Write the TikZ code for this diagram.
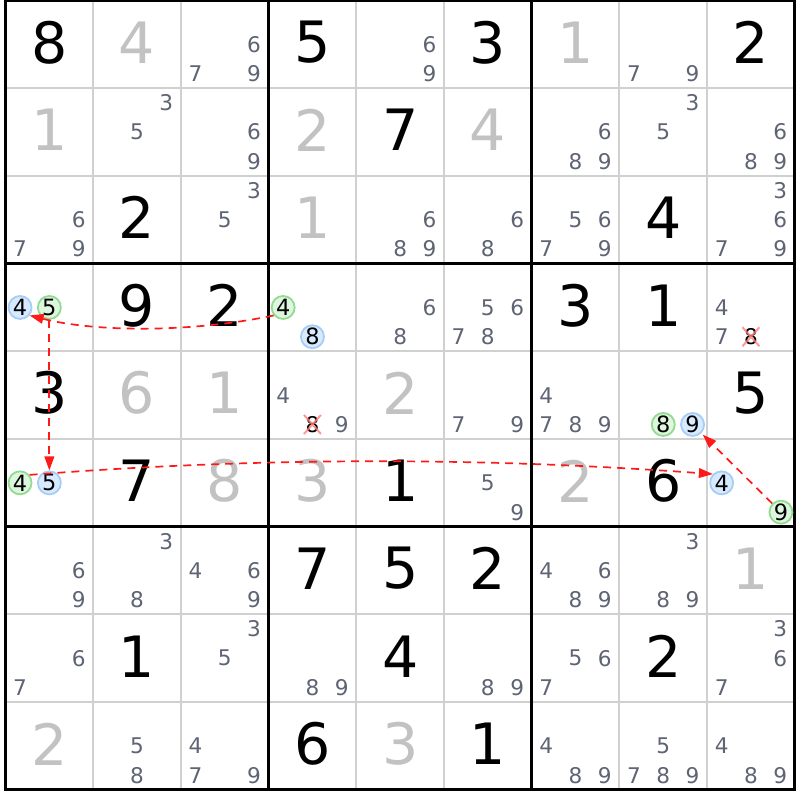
\documentclass[tikz,border=0pt]{standalone}
\usepackage{fontspec}
\setmainfont{DejaVu Sans}
\usetikzlibrary{arrows.meta}
\definecolor{thinline}{HTML}{D0D0D0}
\definecolor{cand}{RGB}{94,100,116}
\definecolor{giv}{HTML}{C2C2C2}
\definecolor{bfill}{HTML}{D8EAFF}
\definecolor{bdraw}{HTML}{A6CDF5}
\definecolor{gfill}{HTML}{DDF6DD}
\definecolor{gdraw}{HTML}{92DC92}
\definecolor{xcol}{HTML}{FF8080}
\definecolor{linkred}{HTML}{FF1A1A}
\begin{document}
\begin{tikzpicture}[x=0.5pt,y=-0.5pt,
  given/.style={inner sep=0pt, font=\fontsize{28.5}{30}\selectfont},
  cnd/.style={inner sep=0pt, font=\fontsize{10.8}{12}\selectfont, text=cand},
  circ/.style={circle, inner sep=0pt, minimum size=11.5pt, line width=0.9pt, font=\fontsize{11.2}{12}\selectfont, text=black},
  bluec/.style={circ, draw=bdraw, fill=bfill},
  greenc/.style={circ, draw=gdraw, fill=gfill},
  crossed/.style={inner sep=0pt, font=\fontsize{10.8}{12}\selectfont, text=black},
  xmark/.style={draw=xcol, line width=1pt, opacity=0.8},
  link/.style={draw=linkred, dash pattern=on 4pt off 3pt, line width=0.85pt, -{Triangle[length=7pt,width=4.8pt,fill=linkred]}},
  thingrid/.style={thinline, line width=1pt},
  thickgrid/.style={black, line width=1.4pt, line cap=rect}
]
\useasboundingbox (0,0) rectangle (800,800);
\fill[white] (0,0) rectangle (800,800);
% grid
\foreach \i in {1,2,4,5,7,8} {
  \draw[thingrid] ({5.5+\i*87.7},0.5) -- ({5.5+\i*87.7},789.8);
  \draw[thingrid] (5.5,{0.5+\i*87.7}) -- (794.8,{0.5+\i*87.7});
}
\foreach \i in {0,3,6,9} {
  \draw[thickgrid] ({5.5+\i*87.7},0.5) -- ({5.5+\i*87.7},789.8);
  \draw[thickgrid] (5.5,{0.5+\i*87.7}) -- (794.8,{0.5+\i*87.7});
}
% givens
\foreach \r/\c/\d/\t in {
  1/1/8/black, 1/2/4/giv, 1/4/5/black, 1/6/3/black, 1/7/1/giv, 1/9/2/black,
  2/1/1/giv, 2/4/2/giv, 2/5/7/black, 2/6/4/giv,
  3/2/2/black, 3/4/1/giv, 3/8/4/black,
  4/2/9/black, 4/3/2/black, 4/7/3/black, 4/8/1/black,
  5/1/3/black, 5/2/6/giv, 5/3/1/giv, 5/5/2/giv, 5/9/5/black,
  6/2/7/black, 6/3/8/giv, 6/4/3/giv, 6/5/1/black, 6/7/2/giv, 6/8/6/black,
  7/4/7/black, 7/5/5/black, 7/6/2/black, 7/9/1/giv,
  8/2/1/black, 8/5/4/black, 8/8/2/black,
  9/1/2/giv, 9/4/6/black, 9/5/3/giv, 9/6/1/black} {
  \pgfmathsetmacro\px{5.5+(\c-0.5)*87.7}
  \pgfmathsetmacro\py{0.5+(\r-0.5)*87.7-2}
  \node[given, text=\t] (g\r\c) at (\px,\py) {\d};
}
% candidates
\foreach \r/\c/\ds in {
  1/3/{6,7,9}, 1/5/{6,9}, 1/8/{7,9},
  2/2/{3,5}, 2/3/{6,9}, 2/7/{6,8,9}, 2/8/{3,5}, 2/9/{6,8,9},
  3/1/{6,7,9}, 3/3/{3,5}, 3/5/{6,8,9}, 3/6/{6,8}, 3/7/{5,6,7,9}, 3/9/{3,6,7,9},
  4/5/{6,8}, 4/6/{5,6,7,8}, 4/9/{4,7},
  5/4/{4,9}, 5/6/{7,9}, 5/7/{4,7,8,9},
  6/6/{5,9},
  7/1/{6,9}, 7/2/{3,8}, 7/3/{4,6,9}, 7/7/{4,6,8,9}, 7/8/{3,8,9},
  8/1/{6,7}, 8/3/{3,5}, 8/4/{8,9}, 8/6/{8,9}, 8/7/{5,6,7}, 8/9/{3,6,7},
  9/2/{5,8}, 9/3/{4,7,9}, 9/7/{4,8,9}, 9/8/{5,7,8,9}, 9/9/{4,8,9}} {
  \foreach \d in \ds {
    \pgfmathsetmacro\px{5.5+(\c-0.5)*87.7+(mod(\d-1,3)-1)*29.3}
    \pgfmathsetmacro\py{0.5+(\r-0.5)*87.7+(floor((\d-1)/3)-1)*29.3}
    \node[cnd] (k\r\c\d) at (\px,\py) {\d};
  }
}
% crossed-out candidates
\node[crossed] (x1) at (750.95,336.75) {8};
\draw[xmark] (x1.center) +(-8.5,-9.5) -- +(8.5,9.5) (x1.center) +(-8.5,9.5) -- +(8.5,-9.5);
\node[crossed] (x2) at (312.45,424.45) {8};
\draw[xmark] (x2.center) +(-8.5,-9.5) -- +(8.5,9.5) (x2.center) +(-8.5,9.5) -- +(8.5,-9.5);
% circled candidates
\node[greenc] (a1) at (283.15,307.45) {4};
\node[bluec]  (e1) at (312.45,336.75) {8};
\node[bluec]  (a2) at (20.05,307.45) {4};
\node[greenc] (b1) at (49.35,307.45) {5};
\node[greenc] (c1) at (20.05,482.85) {4};
\node[bluec]  (b2) at (49.35,482.85) {5};
\node[bluec]  (c2) at (721.65,482.85) {4};
\node[greenc] (d1) at (780.95,512.15) {9};
\node[greenc] (f1) at (663.25,424.45) {8};
\node[bluec]  (d2) at (692.55,424.45) {9};
% links
\draw[link] (a1.220) .. controls (190,333) and (95,332) .. (a2.-40);
\draw[link, line width=1pt] (b1.south) -- (b2.north);
\draw[link] (c1.40) .. controls (260,457) and (480,457) .. (c2.135);
\draw[link, shorten >=1pt] (d1) -- (d2);
\end{tikzpicture}
\end{document}
